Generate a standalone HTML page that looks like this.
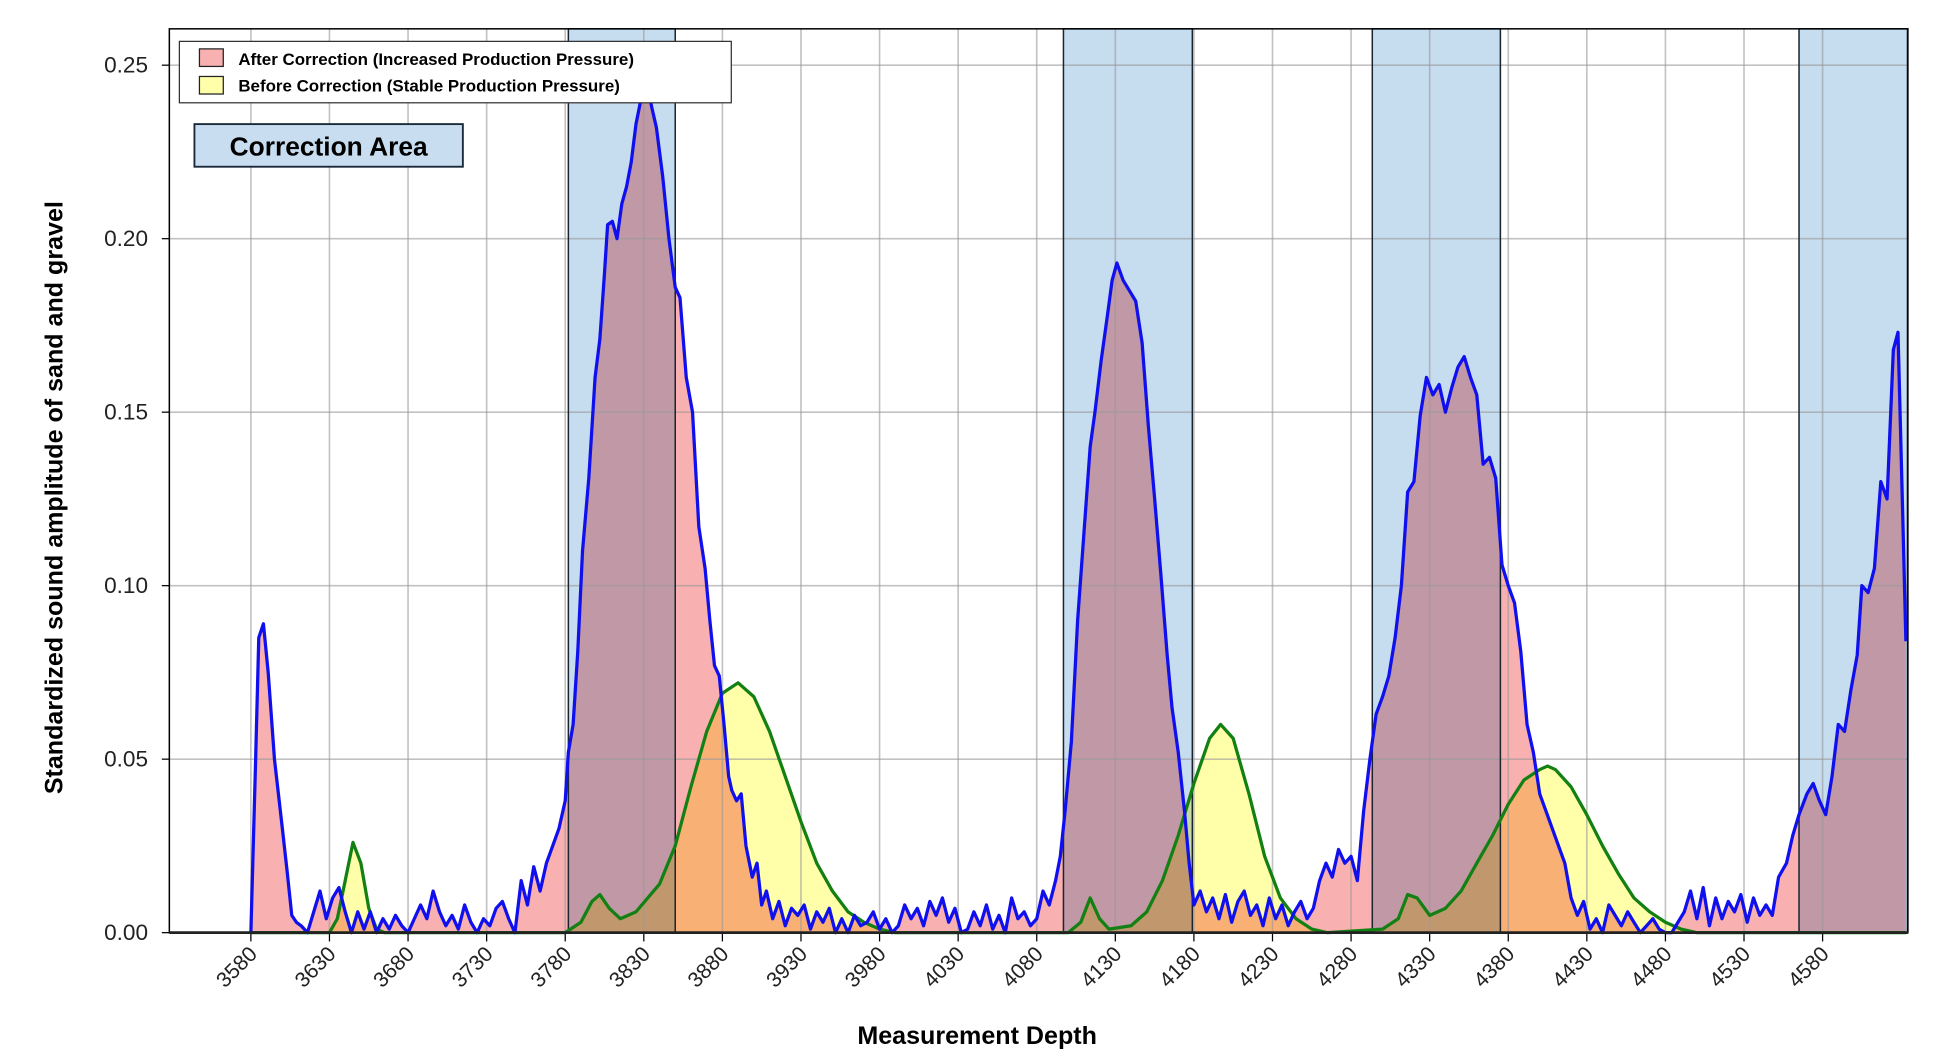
<!DOCTYPE html>
<html><head><meta charset="utf-8"><style>
html,body{margin:0;padding:0;background:#fff;}
svg{display:block;font-family:"Liberation Sans",Arial,sans-serif;}
</style></head><body>
<svg id="chart" width="1938" height="1053" viewBox="0 0 1545 840" preserveAspectRatio="none" xmlns="http://www.w3.org/2000/svg">
<rect x="0" y="0" width="1545" height="840" fill="#fff"/>
<g id="shades"></g>
<g id="fills"></g>
<g id="grid"></g>
<g id="shadeBorders"></g>
<g id="lines"></g>
<g id="axes"></g>
<text x="779" y="833" text-anchor="middle" font-size="20" font-weight="bold" fill="#000">Measurement Depth</text>
<text transform="translate(50,397) rotate(-90)" text-anchor="middle" font-size="20" font-weight="bold" fill="#000">Standardized sound amplitude of sand and gravel</text>
<g>
<rect x="143" y="33" width="440" height="49" fill="#fff" stroke="#333" stroke-width="1"/>
<rect x="159" y="39" width="19" height="14" fill="#f9b0b0" stroke="#222" stroke-width="1"/>
<text x="190" y="52" font-size="13.5" font-weight="bold">After Correction (Increased Production Pressure)</text>
<rect x="159" y="61" width="19" height="14" fill="#ffffaa" stroke="#222" stroke-width="1"/>
<text x="190" y="73" font-size="13.5" font-weight="bold">Before Correction (Stable Production Pressure)</text>
</g>
<g>
<rect x="155" y="99" width="214" height="34" fill="#c8ddf0" stroke="#1a2a3a" stroke-width="1.5"/>
<text x="262" y="124" text-anchor="middle" font-size="21" font-weight="bold">Correction Area</text>
</g>
</svg>
<script>
const xTicks=[3580,3630,3680,3730,3780,3830,3880,3930,3980,4030,4080,4130,4180,4230,4280,4330,4380,4430,4480,4530,4580];
const yTicks=[0,0.05,0.10,0.15,0.20,0.25];
const yTickLabels=["0.00","0.05","0.10","0.15","0.20","0.25"];
const shadeStarts=[3782,4097,4293.5,4565];
const shadeEnds=[3850,4179,4375,4634];
const blueDepths=[
3580,3583,3585,3588,3591,3595,3600,3603,3606,3609,
3612,3616,3620,3624,3628,3632,3636,3640,3644,3648,
3652,3656,3660,3664,3668,3672,3676,3680,3684,3688,
3692,3696,3700,3704,3708,3712,3716,3720,3724,3728,
3732,3736,3740,3744,3748,3752,3756,3760,3764,3768,
3772,3776,
3780,3782,3785,3788,3791,3795,3799,3802,3805,3807,
3810,3813,3816,3819,3822,3825,3829,3832,3835,3838,
3842,3846,3850,3853,3857,3861,3865,3869,3872,3875,
3878,3881,3884,3886,3889,3892,3895,3899,3902,3905,
3908,3912,3916,3920,3924,3928,3932,3936,3940,3944,
3948,3952,3956,3960,3964,3968,3972,3976,3980,3984,
3988,3992,3996,4000,4004,4008,4012,4016,4020,4024,
4028,4032,4036,4040,4044,4048,4052,4056,4060,4064,
4068,4072,4076,4080,4084,4088,
4092,4095,4098,4102,4106,4110,4114,4117,4121,4125,
4128,4131,4135,4139,4143,4147,4151,4155,4159,4163,
4166,4170,4174,4177,4180,
4184,4188,4192,4196,4200,4204,4208,4212,4216,4220,
4224,4228,4232,4236,4240,4244,4248,4252,4256,
4260,4264,4268,4272,4276,4280,4284,4288,4292,4296,
4300,4304,4308,4312,4316,4320,4324,4328,4332,4336,
4340,4344,4348,4352,4356,4360,4364,4368,4372,4376,
4380,4384,4388,4392,4396,4400,4404,4408,4412,4416,
4420,4424,4428,4432,4436,4440,4444,4448,4452,4456,
4460,4464,4468,4472,4476,4480,4484,4488,4492,4496,
4500,4504,4508,4512,4516,4520,4524,4528,4532,4536,
4540,4544,4548,4552,
4557,4561,4565,4570,4574,4578,4582,4586,4590,4594,
4598,4602,4605,4609,4613,4617,4621,4625,4628,4631,4633];
const blueValues=[
0,0.05,0.085,0.089,0.075,0.05,0.03,0.018,0.005,0.003,
0.002,0,0.006,0.012,0.004,0.01,0.013,0.006,0,0.006,
0.001,0.006,0,0.004,0.001,0.005,0.002,0,0.004,0.008,
0.004,0.012,0.006,0.002,0.005,0.001,0.008,0.003,0,0.004,
0.002,0.007,0.009,0.004,0,0.015,0.008,0.019,0.012,0.02,
0.025,0.03,
0.038,0.052,0.06,0.081,0.11,0.131,0.16,0.171,0.19,0.204,
0.205,0.2,0.21,0.215,0.222,0.233,0.242,0.245,0.238,0.232,
0.218,0.2,0.186,0.183,0.16,0.15,0.117,0.105,0.09,0.077,
0.074,0.06,0.045,0.041,0.038,0.04,0.025,0.016,0.02,0.008,
0.012,0.004,0.009,0.002,0.007,0.005,0.008,0.001,0.006,0.003,
0.007,0,0.004,0,0.005,0.002,0.003,0.006,0.001,0.004,
0,0.002,0.008,0.004,0.007,0.002,0.009,0.005,0.01,0.003,
0.007,0,0.001,0.006,0.002,0.008,0.001,0.005,0,0.01,
0.004,0.006,0.002,0.004,0.012,0.008,
0.015,0.022,0.035,0.055,0.09,0.115,0.14,0.15,0.165,0.178,
0.188,0.193,0.188,0.185,0.182,0.17,0.146,0.125,0.103,0.08,
0.065,0.052,0.035,0.02,0.008,
0.012,0.006,0.01,0.004,0.011,0.003,0.009,0.012,0.005,0.008,
0.002,0.01,0.004,0.008,0.002,0.006,0.009,0.004,0.007,
0.015,0.02,0.016,0.024,0.02,0.022,0.015,0.035,0.05,0.063,
0.068,0.074,0.085,0.1,0.127,0.13,0.149,0.16,0.155,0.158,
0.15,0.157,0.163,0.166,0.16,0.155,0.135,0.137,0.131,0.106,
0.1,0.095,0.081,0.06,0.052,0.04,0.035,0.03,0.025,0.02,
0.01,0.005,0.009,0.001,0.004,0,0.008,0.005,0.002,0.006,
0.003,0,0.002,0.004,0.001,0,0,0.003,0.006,0.012,
0.004,0.013,0.002,0.01,0.004,0.009,0.006,0.011,0.003,0.01,
0.005,0.008,0.005,0.016,
0.02,0.028,0.034,0.04,0.043,0.038,0.034,0.045,0.06,0.058,
0.07,0.08,0.1,0.098,0.105,0.13,0.125,0.168,0.173,0.12,0.084];
const greenDepths=[3580,3630,3635,3640,3645,3650,3655,3660,3665,3780,3790,3797,3802,3808,3815,3825,3840,3850,3860,3870,3880,3890,3900,3910,3920,3930,3940,3950,3960,3970,3980,3990,4100,4108,4114,4120,4126,4140,4150,4160,4170,4180,4190,4197,4205,4215,4225,4235,4245,4255,4265,4300,4310,4316,4322,4330,4340,4350,4360,4370,4380,4390,4400,4405,4410,4420,4430,4440,4450,4460,4470,4480,4490,4500,4633];
const greenValues=[0,0,0.004,0.015,0.026,0.02,0.007,0.001,0,0,0.003,0.009,0.011,0.007,0.004,0.006,0.014,0.025,0.042,0.058,0.069,0.072,0.068,0.058,0.045,0.032,0.02,0.012,0.006,0.003,0.001,0,0,0.003,0.01,0.004,0.001,0.002,0.006,0.015,0.028,0.043,0.056,0.06,0.056,0.04,0.022,0.01,0.004,0.001,0,0.001,0.004,0.011,0.01,0.005,0.007,0.012,0.02,0.028,0.037,0.044,0.047,0.048,0.047,0.042,0.034,0.025,0.017,0.01,0.006,0.003,0.001,0,0];

const L=135,R=1521,T=23,B=744;
const xs=d=>200+(d-3580)*(1253/1000);
const ys=v=>B-v*(692/0.25);
const NS='http://www.w3.org/2000/svg';
function mk(tag,attrs,parent){const e=document.createElementNS(NS,tag);for(const k in attrs)e.setAttribute(k,attrs[k]);parent.appendChild(e);return e;}
const shades=document.getElementById('shades'),fills=document.getElementById('fills'),grid=document.getElementById('grid'),sb=document.getElementById('shadeBorders'),lines=document.getElementById('lines'),axes=document.getElementById('axes');

shadeStarts.forEach((s,i)=>{
  const r=mk('rect',{x:xs(s),y:T,width:xs(shadeEnds[i])-xs(s),height:B-T,fill:'#c6dcef'},shades);
  
  
  const b=mk('rect',{x:xs(s),y:T,width:xs(shadeEnds[i])-xs(s),height:B-T,fill:'none',stroke:'#1a2530','stroke-width':1.2},sb);
  
  
});

function pathOf(ds,vs){const n=Math.min(ds.length,vs.length);let p='';for(let i=0;i<n;i++)p+=(i?' L':'M')+xs(ds[i]).toFixed(1)+','+ys(vs[i]).toFixed(1);return p;}
function areaOf(ds,vs){const n=Math.min(ds.length,vs.length);return pathOf(ds,vs)+' L'+xs(ds[n-1]).toFixed(1)+','+B+' L'+xs(ds[0]).toFixed(1)+','+B+' Z';}
const gf=mk('path',{d:areaOf(greenDepths,greenValues),fill:'#ffffaa',style:'mix-blend-mode:multiply'},fills);


const bf=mk('path',{d:areaOf(blueDepths,blueValues),fill:'#f9b0b0',style:'mix-blend-mode:multiply'},fills);



xTicks.forEach(t=>{
  const g=mk('line',{x1:xs(t),x2:xs(t),y1:T,y2:B,stroke:'#999','stroke-opacity':0.6,'stroke-width':1.3},grid);
  
  
  const tk=mk('line',{x1:xs(t),x2:xs(t),y1:B,y2:B+7,stroke:'#000','stroke-width':1},axes);
  
  
  const tx=mk('text',{transform:`translate(${xs(t)+6},${B+18}) rotate(-45)`,'text-anchor':'end','font-size':17,fill:'#222'},axes);
  tx.textContent=t;
  
  
});
yTicks.forEach((t,i)=>{
  const g=mk('line',{x1:L,x2:R,y1:ys(t),y2:ys(t),stroke:'#999','stroke-opacity':0.6,'stroke-width':1.3},grid);
  
  
  const tk=mk('line',{x1:L-6,x2:L,y1:ys(t),y2:ys(t),stroke:'#000','stroke-width':1},axes);
  
  
  const tx=mk('text',{x:L-17,y:ys(t)+6,'text-anchor':'end','font-size':18,fill:'#222'},axes);
  tx.textContent=yTickLabels[i];
  
  
});
const frame=mk('rect',{x:L,y:T,width:R-L,height:B-T,fill:'none',stroke:'#000','stroke-width':1.2},axes);


const base=mk('line',{x1:L,x2:R,y1:B,y2:B,stroke:'#222','stroke-width':2.2},axes);



const gl=mk('path',{d:pathOf(greenDepths,greenValues),fill:'none',stroke:'#138013','stroke-width':2.6,'stroke-linejoin':'round'},lines);


const bl=mk('path',{d:pathOf(blueDepths,blueValues),fill:'none',stroke:'#1010ee','stroke-width':2.6,'stroke-linejoin':'round'},lines);


</script>
</body></html>
